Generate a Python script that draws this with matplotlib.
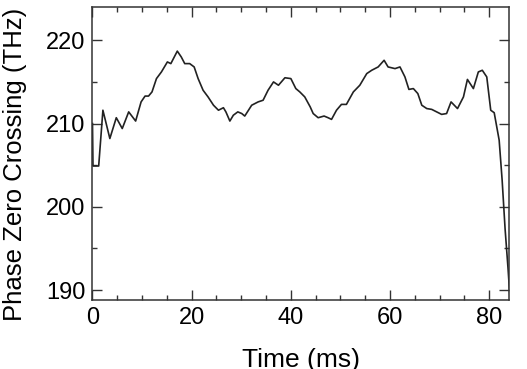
import matplotlib
matplotlib.use("Agg")
import matplotlib.pyplot as plt
from matplotlib.ticker import MultipleLocator

# trace (time in ms, frequency in THz)
time_ms = [0.0, 0.1, 1.25, 2.1, 3.5, 4.8, 6.0, 7.3, 8.7, 9.8, 10.6, 11.3, 12.0,
           12.9, 13.9, 15.1, 15.8, 17.1, 17.9, 18.6, 19.6, 20.5, 21.3, 22.3,
           23.3, 24.4, 25.4, 26.4, 26.9, 27.7, 28.4, 29.3, 30.1, 30.7, 32.1,
           33.4, 34.4, 35.4, 36.5, 37.5, 38.8, 40.0, 41.0, 41.8, 42.8, 43.9,
           44.5, 45.5, 46.7, 47.5, 48.2, 49.2, 50.2, 51.2, 52.6, 53.9, 55.3,
           56.3, 57.6, 58.8, 59.6, 61.0, 62.0, 63.0, 63.8, 64.7, 65.6, 66.4,
           67.4, 68.4, 69.4, 70.4, 71.4, 72.3, 73.6, 74.8, 75.6, 76.8, 77.8,
           78.6, 79.5, 80.3, 81.0, 82.0, 82.6, 83.2, 83.8, 84.2]
freq_thz = [210.0, 204.9, 204.9, 211.6, 208.2, 210.7, 209.4, 211.4, 210.3,
            212.6, 213.3, 213.3, 213.8, 215.4, 216.2, 217.4, 217.2, 218.7,
            218.0, 217.2, 217.2, 216.8, 215.4, 214.0, 213.2, 212.2, 211.6,
            211.9, 211.4, 210.3, 211.0, 211.4, 211.2, 210.9, 212.2, 212.6,
            212.8, 214.0, 215.0, 214.6, 215.5, 215.4, 214.2, 213.8, 213.2,
            212.0, 211.2, 210.7, 210.9, 210.7, 210.5, 211.6, 212.3, 212.3,
            213.8, 214.6, 216.0, 216.4, 216.8, 217.6, 216.8, 216.6, 216.8,
            215.6, 214.1, 214.2, 213.6, 212.2, 211.8, 211.7, 211.4, 211.1,
            211.2, 212.6, 211.8, 213.2, 215.3, 214.2, 216.2, 216.4, 215.6,
            211.6, 211.3, 208.0, 203.2, 197.3, 192.5, 188.9]

plt.rcParams['font.family'] = ['Liberation Sans', 'DejaVu Sans']

fig = plt.figure(figsize=(5.27, 3.69), dpi=100)
ax = fig.add_axes([0.1755, 0.187, 0.7905, 0.794])

ax.plot(time_ms, freq_thz, color='#222222', linewidth=1.2,
        solid_joinstyle='round')

ax.set_xlim(0, 84)
ax.set_ylim(188.8, 224)
ax.xaxis.set_major_locator(MultipleLocator(20))
ax.xaxis.set_minor_locator(MultipleLocator(5))
ax.yaxis.set_major_locator(MultipleLocator(10))
ax.yaxis.set_minor_locator(MultipleLocator(5))

ax.tick_params(which='both', direction='in', top=True, right=True,
               color='#333333', width=1.0, labelsize=17, pad=5)
ax.tick_params(which='major', length=7.5)
ax.tick_params(which='minor', length=3.8)
for s in ax.spines.values():
    s.set_color('#333333')
    s.set_linewidth(1.1)

ax.set_xlabel('Time (ms)', fontsize=19, labelpad=14)
ax.set_ylabel('Phase Zero Crossing (THz)', fontsize=18.5)
ax.yaxis.set_label_coords(-0.158, 0.462)

fig.savefig('out.png', dpi=100)
